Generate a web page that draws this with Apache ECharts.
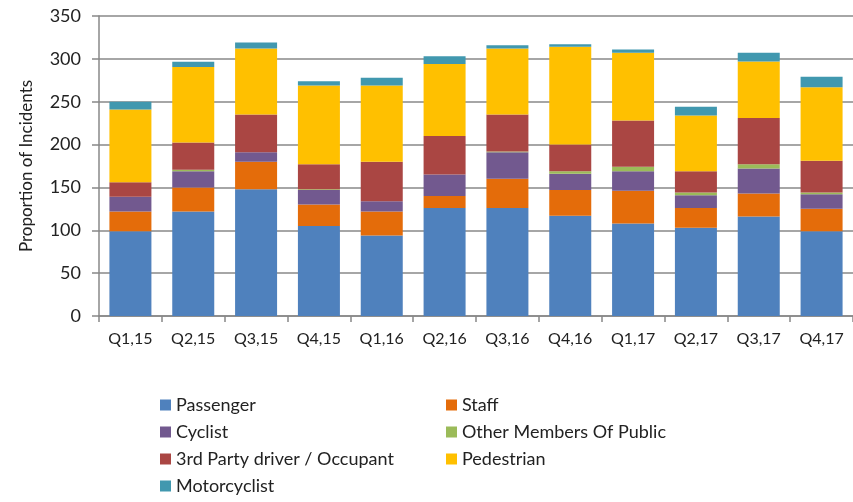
<!DOCTYPE html>
<html>
<head>
<meta charset="utf-8">
<script src="https://cdn.jsdelivr.net/npm/echarts@6/dist/echarts.min.js"></script>
<style>
  html, body { margin: 0; padding: 0; background: #fff; }
  #chart { width: 853px; height: 502px; }
</style>
</head>
<body>
<div id="chart"></div>
<script>
  // categories (quarters)
  var quarters = ['Q1,15', 'Q2,15', 'Q3,15', 'Q4,15', 'Q1,16', 'Q2,16', 'Q3,16', 'Q4,16', 'Q1,17', 'Q2,17', 'Q3,17', 'Q4,17'];

  // series values
  var passenger    = [99, 122, 148, 105, 94, 126, 126, 117, 108, 103, 116, 99];
  var staff        = [23, 28, 32, 25, 28, 14, 34, 30, 38, 23, 27, 26];
  var cyclist      = [17, 19, 11, 17, 12, 25, 31, 19, 23, 15, 29, 17];
  var otherPublic  = [0, 1.5, 0, 1, 0, 0, 1, 3, 5, 3, 5, 2];
  var thirdParty   = [17, 32, 44, 29, 46, 45, 43, 31, 54, 25, 54, 37];
  var pedestrian   = [85, 88, 77, 92, 89, 84, 77, 114, 79, 65, 66, 86];
  var motorcyclist = [9, 6, 7, 5, 9, 9, 4, 3, 4, 10, 10, 12];

  var yTicks = [0, 50, 100, 150, 200, 250, 300, 350];

  var font = 'Lato, "Open Sans", sans-serif';

  // name, data, colour (bottom -> top)
  var seriesDefs = [
    ['Passenger', passenger, '#4F81BD'],
    ['Staff', staff, '#E46C0A'],
    ['Cyclist', cyclist, '#72598F'],
    ['Other Members Of Public', otherPublic, '#9BBB59'],
    ['3rd Party driver / Occupant', thirdParty, '#AA4643'],
    ['Pedestrian', pedestrian, '#FFC000'],
    ['Motorcyclist', motorcyclist, '#4198AF']
  ];

  var chart = echarts.init(document.getElementById('chart'));

  var legendBase = {
    orient: 'vertical',
    top: 395,
    padding: 0,
    itemWidth: 11,
    itemHeight: 11,
    itemGap: 7,
    icon: 'rect',
    selectedMode: false,
    textStyle: {fontFamily: font, fontSize: 18, color: '#222', lineHeight: 20}
  };

  chart.setOption({
    animation: false,
    color: seriesDefs.map(function (d) { return d[2]; }),
    grid: {left: 99, right: -6, top: 16, height: 300},
    legend: [
      Object.assign({}, legendBase, {left: 160, data: ['Passenger', 'Cyclist', '3rd Party driver / Occupant', 'Motorcyclist']}),
      Object.assign({}, legendBase, {left: 446, data: ['Staff', 'Other Members Of Public', 'Pedestrian']})
    ],
    xAxis: {
      type: 'category',
      data: quarters,
      axisLine: {lineStyle: {color: '#888', width: 1.5}},
      axisTick: {show: true, length: 6, lineStyle: {color: '#888', width: 1.5}},
      axisLabel: {fontFamily: font, fontSize: 16, color: '#222', margin: 15}
    },
    yAxis: {
      type: 'value',
      min: yTicks[0],
      max: yTicks[yTicks.length - 1],
      interval: 50,
      name: 'Proportion of Incidents',
      nameLocation: 'middle',
      nameGap: 64,
      nameTextStyle: {fontFamily: font, fontSize: 17, color: '#222'},
      axisLine: {show: true, lineStyle: {color: '#888', width: 1.5}},
      axisTick: {show: true, length: 7, lineStyle: {color: '#888', width: 1.5}},
      axisLabel: {fontFamily: font, fontSize: 18, color: '#222', margin: 18},
      splitLine: {lineStyle: {color: '#888', width: 1.5}}
    },
    series: seriesDefs.map(function (d) {
      return {
        name: d[0],
        type: 'bar',
        stack: 'total',
        barWidth: 42,
        data: d[1],
        itemStyle: {color: d[2]}
      };
    })
  });
</script>
</body>
</html>
